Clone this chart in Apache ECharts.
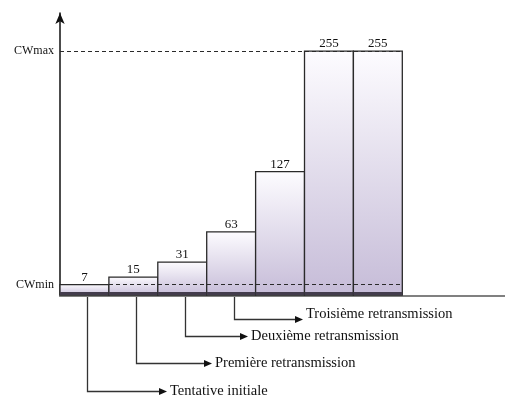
<!DOCTYPE html>
<html><head><meta charset="utf-8">
<script src="https://cdn.jsdelivr.net/npm/echarts@6/dist/echarts.min.js"></script>
<style>html,body{margin:0;padding:0;background:#fff}#c{width:505px;height:400px}</style>
</head><body><div id="c"></div>
<script>
// Contention window per attempt
const attempts = [0, 1, 2, 3, 4, 5, 6];
const cwValues = [7, 15, 31, 63, 127, 255, 255];
const cwLimitNames = ['CWmax', 'CWmin'];
const cwLimitValues = [255, 7];
const annotationLabels = ['Tentative initiale', 'Première retransmission', 'Deuxième retransmission', 'Troisième retransmission'];

const FONT = '"Liberation Serif", "DejaVu Serif", serif';
const Y_MIN = -5, Y_MAX = 295.5;
const chart = echarts.init(document.getElementById('c'), null, {renderer: 'canvas'});

const barData = attempts.map((a, i) => [a, cwValues[i]]);
const limitLines = cwLimitNames.map((n, i) => [
  {coord: [0, cwLimitValues[i]], label: {show: true, position: 'start', formatter: n}},
  {coord: [attempts.length, cwLimitValues[i]]}
]);

chart.setOption({
  animation: false,
  grid: {left: 60, right: 0, top: 13, bottom: 104},
  xAxis: {
    type: 'value', min: 0, max: 9.1,
    axisLine: {show: true, onZero: false, lineStyle: {color: '#808080', width: 2}},
    axisTick: {show: false}, axisLabel: {show: false}, splitLine: {show: false}
  },
  yAxis: {
    type: 'value', min: Y_MIN, max: Y_MAX,
    axisLine: {show: true, onZero: false, symbol: ['none', 'arrow'], symbolSize: [7, 11], lineStyle: {color: '#111', width: 1.5}},
    axisTick: {show: false}, axisLabel: {show: false}, splitLine: {show: false}
  },
  series: [
    {
      type: 'custom',
      data: barData,
      z: 2,
      renderItem: function (params, api) {
        const i = api.value(0), v = api.value(1);
        const p0 = api.coord([i, v]);
        const p1 = api.coord([i + 1, Y_MIN]);
        const x = p0[0], y = p0[1], w = p1[0] - p0[0], h = p1[1] - p0[1] - 1;
        return {
          type: 'group',
          children: [
            {type: 'rect', shape: {x: x, y: y, width: w, height: h},
              style: {fill: new echarts.graphic.LinearGradient(0, 0, 0, 1, [
                {offset: 0, color: '#fdfcff'}, {offset: 1, color: '#c6bcd8'}]),
                stroke: '#2a2a2a', lineWidth: 1.3}},
            {type: 'line', shape: {x1: x, y1: y + h - 1.5, x2: x + w, y2: y + h - 1.5},
              style: {stroke: '#433c4c', lineWidth: 3}},
            {type: 'text', style: {text: String(v), x: x + w / 2, y: y - 1, align: 'center',
              verticalAlign: 'bottom', font: '13px ' + FONT, fill: '#111'}}
          ]
        };
      }
    },
    {
      type: 'line',
      data: [],
      z: 5,
      markLine: {
        silent: true,
        symbol: ['none', 'none'],
        lineStyle: {type: [4, 3], color: '#2a2a2a', width: 1.2},
        label: {fontFamily: FONT, fontSize: 12, color: '#111', distance: 6},
        data: limitLines
      }
    }
  ]
});

// Annotation tree below the bars
const rowY = [391, 363, 336, 319];
const tipX = [167, 212, 248, 303];
const textDy = [0, 0, 0, -5];
const elements = [];
annotationLabels.forEach((txt, k) => {
  const p = chart.convertToPixel({gridIndex: 0}, [attempts[k] + 0.55, Y_MIN]);
  const x = Math.round(p[0]) + 0.5, y0 = p[1], y = rowY[k] + 0.5;
  elements.push({type: 'polyline', shape: {points: [[x, y0], [x, y], [tipX[k] - 6, y]]},
    style: {stroke: '#333', lineWidth: 1.3, fill: null}, silent: true});
  elements.push({type: 'polygon', shape: {points: [[tipX[k] - 8, y - 3.5], [tipX[k], y], [tipX[k] - 8, y + 3.5]]},
    style: {fill: '#111'}, silent: true});
  elements.push({type: 'text', x: tipX[k] + 3, y: y + textDy[k],
    style: {text: txt, font: '14.5px ' + FONT, fill: '#111', verticalAlign: 'middle', align: 'left'}, silent: true});
});
chart.setOption({graphic: {elements: elements}});
</script>
</body></html>
